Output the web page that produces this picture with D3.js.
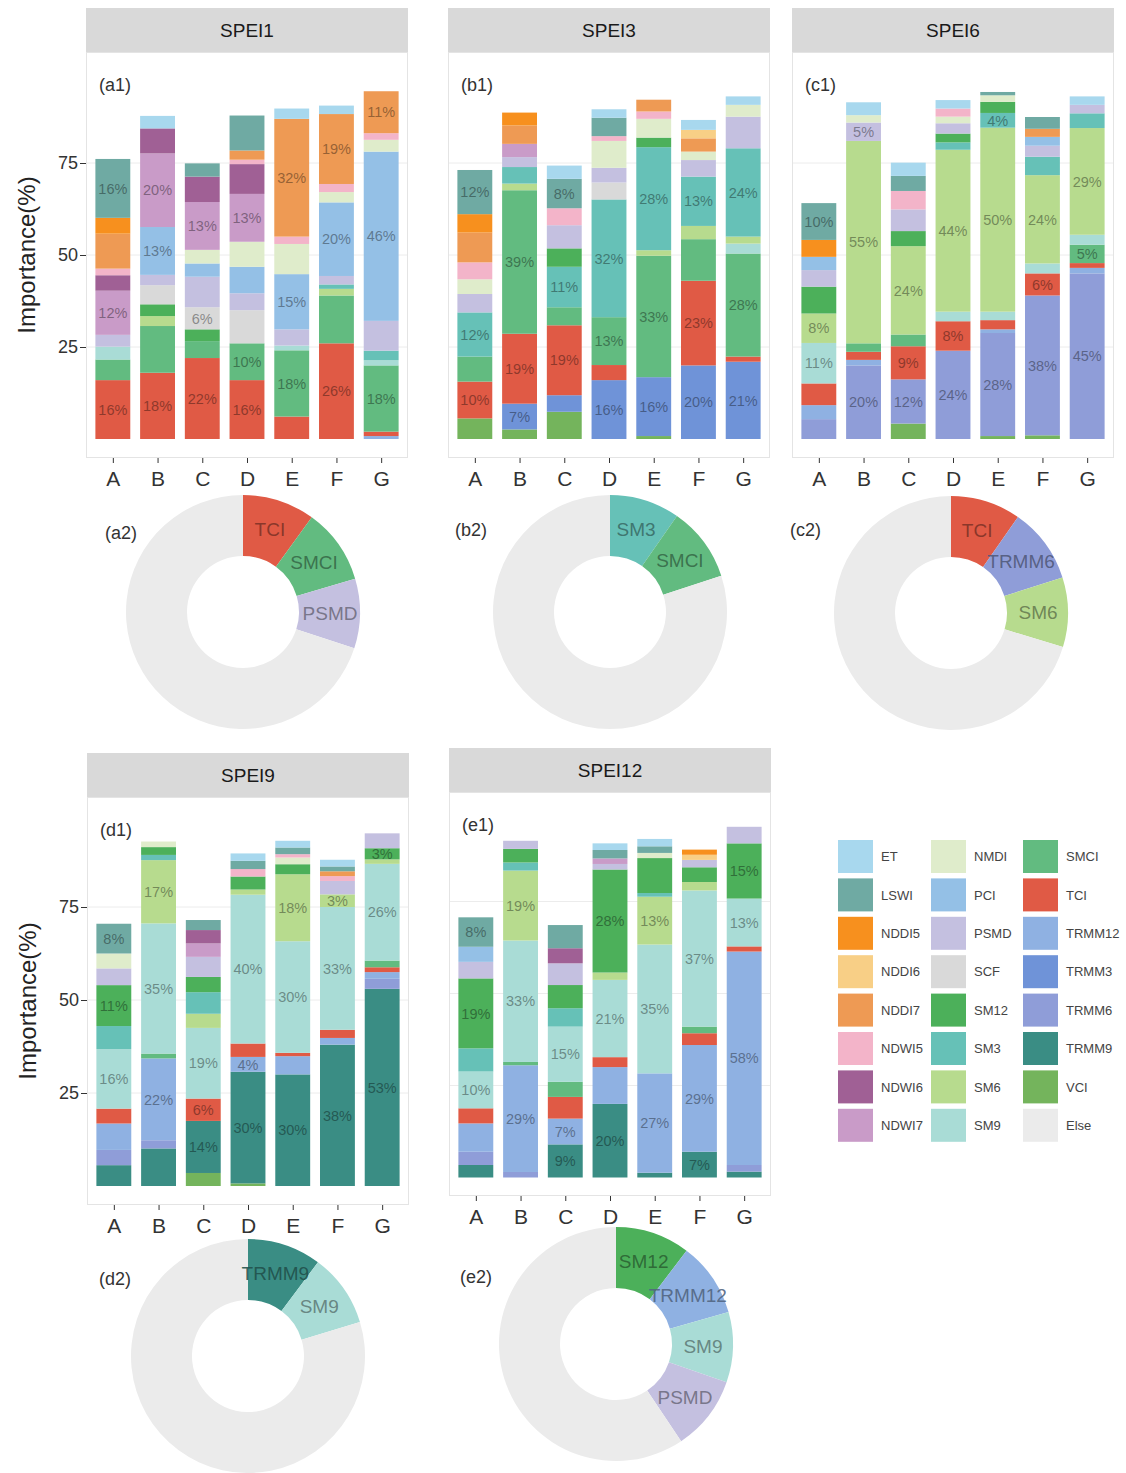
<!DOCTYPE html>
<html>
<head>
<meta charset="utf-8">
<script src="https://cdn.jsdelivr.net/npm/d3@7"></script>
<style>
  body { margin: 0; background: #fff; }
  svg { display: block; }
  text { font-family: "Liberation Sans", Arial, Helvetica, sans-serif; }
</style>
</head>
<body>
<svg id="chart" width="1126" height="1473"></svg>
<script>
// ---- data -------------------------------------------------------------
const categories = ["A", "B", "C", "D", "E", "F", "G"];

// predictor variables, in legend order (first one is stacked on top)
const variables = ["ET", "LSWI", "NDDI5", "NDDI6", "NDDI7", "NDWI5", "NDWI6", "NDWI7",
  "NMDI", "PCI", "PSMD", "SCF", "SM12", "SM3", "SM6", "SM9",
  "SMCI", "TCI", "TRMM12", "TRMM3", "TRMM6", "TRMM9", "VCI", "Else"];
const colours = ["#a8d8ee", "#6faaa3", "#f7901e", "#f8cf86", "#ee9a54", "#f3b4c9", "#a06095", "#c99bc8",
  "#dfeccb", "#94c0e6", "#c4c0e0", "#d9d9d9", "#4cb05a", "#66c1b7", "#b7db8e", "#a9dcd6",
  "#62bb80", "#e05a45", "#8fb1e2", "#6f93d8", "#8f9dd8", "#3a8d84", "#74b45c", "#ebebeb"];

const yTicks = [25, 50, 75];

// relative importance (%) per region, SPEI1
const spei1 = [
  { cat: "A", TCI: 16, SMCI: 5.6, SM9: 3.5, PSMD: 3.2, NDWI7: 12, NDWI6: 4.2, NDWI5: 1.8, NDDI7: 9.5, NDDI5: 4.3, LSWI: 16 },
  { cat: "B", TCI: 18, SMCI: 12.7, SM6: 2.7, SM12: 3.2, SCF: 5.2, PSMD: 2.8, PCI: 13, NDWI7: 20, NDWI6: 6.8, ET: 3.4 },
  { cat: "C", TCI: 22, SMCI: 4.6, SM12: 3.2, SCF: 6, PSMD: 8.3, PCI: 3.6, NMDI: 3.7, NDWI7: 13, NDWI6: 6.9, LSWI: 3.6 },
  { cat: "D", TCI: 16, SMCI: 10, SCF: 9, PSMD: 4.6, PCI: 7.2, NMDI: 6.8, NDWI7: 13, NDWI6: 8.1, NDWI5: 1.2, NDDI7: 2.5, LSWI: 9.5 },
  { cat: "E", TCI: 6.1, SMCI: 18, SM9: 1.3, PSMD: 4.4, PCI: 15, NMDI: 8.2, NDWI5: 2, NDDI7: 32, ET: 2.8 },
  { cat: "F", TCI: 26, SMCI: 13, SM6: 1.8, SM3: 1.2, PSMD: 2.3, PCI: 20, NMDI: 2.8, NDWI5: 2.2, NDDI7: 19, ET: 2.3 },
  { cat: "G", TRMM12: 0.8, TCI: 1.2, SMCI: 18, SM9: 1.4, SM3: 2.6, PSMD: 8.1, PCI: 46, NMDI: 3.2, NDWI5: 1.8, NDDI7: 11.4 }
];
const spei1Labels = {
  A: ["TCI", "NDWI7", "LSWI"], B: ["TCI", "PCI", "NDWI7"], C: ["TCI", "SCF", "NDWI7"],
  D: ["TCI", "SMCI", "NDWI7"], E: ["SMCI", "PCI", "NDDI7"], F: ["TCI", "PCI", "NDDI7"], G: ["SMCI", "PCI", "NDDI7"]
};

// SPEI3
const spei3 = [
  { cat: "A", VCI: 5.6, TCI: 10, SMCI: 6.8, SM3: 12, PSMD: 5, NMDI: 4, NDWI5: 4.6, NDDI7: 8.1, NDDI5: 5, LSWI: 12 },
  { cat: "B", VCI: 2.6, TRMM3: 7, TCI: 19, SMCI: 39, SM6: 1.8, SM3: 4.5, PSMD: 2.7, NDWI7: 3.6, NDDI7: 5, NDDI5: 3.5 },
  { cat: "C", VCI: 7.4, TRMM3: 4.5, TCI: 19, SMCI: 4.9, SM3: 11, SM12: 5, PSMD: 6.3, NDWI5: 4.6, LSWI: 8, ET: 3.6 },
  { cat: "D", TRMM3: 16, TCI: 4.1, SMCI: 13, SM3: 32, SCF: 4.6, PSMD: 4, NMDI: 7.3, NDWI5: 1.3, LSWI: 5, ET: 2.3 },
  { cat: "E", VCI: 0.8, TRMM3: 16, SMCI: 33, SM6: 1.5, SM3: 28, SM12: 2.6, NMDI: 5.1, NDWI5: 2, NDDI7: 3.2 },
  { cat: "F", TRMM3: 20, TCI: 23, SMCI: 11.3, SM6: 3.6, SM3: 13.4, PSMD: 4.5, NMDI: 2.3, NDDI7: 3.6, NDDI6: 2.3, ET: 2.7 },
  { cat: "G", TRMM3: 21, TCI: 1.4, SMCI: 28, SM9: 2.7, SM6: 1.9, SM3: 24, PSMD: 8.6, NMDI: 3.2, ET: 2.3 }
];
const spei3Labels = {
  A: ["TCI", "SM3", "LSWI"], B: ["TRMM3", "TCI", "SMCI"], C: ["TCI", "SM3", "LSWI"],
  D: ["TRMM3", "SMCI", "SM3"], E: ["TRMM3", "SMCI", "SM3"], F: ["TRMM3", "TCI", "SM3"], G: ["TRMM3", "SMCI", "SM3"]
};

// SPEI6
const spei6 = [
  { cat: "A", TRMM6: 5.4, TRMM12: 3.8, TCI: 5.9, SM9: 11, SM6: 8, SM12: 7.3, PSMD: 4.5, PCI: 3.6, NDDI5: 4.6, LSWI: 10 },
  { cat: "B", TRMM6: 20, TRMM12: 1.5, TCI: 2.2, SMCI: 2.3, SM6: 55, PSMD: 5, NMDI: 2, ET: 3.5 },
  { cat: "C", VCI: 4.2, TRMM6: 12, TCI: 9, SMCI: 3.2, SM6: 24, SM12: 4.1, PSMD: 5.9, NDWI5: 5, LSWI: 4.1, ET: 3.6 },
  { cat: "D", TRMM6: 24, TCI: 8, SM9: 2.6, SM6: 44, SM3: 2, SM12: 2.4, PSMD: 2.8, NMDI: 1.8, NDWI5: 2.2, ET: 2.3 },
  { cat: "E", VCI: 0.8, TRMM6: 28, TRMM12: 1, TCI: 2.5, SM9: 2.3, SM6: 50, SM3: 4, SM12: 3, NMDI: 1.8, LSWI: 0.9 },
  { cat: "F", VCI: 1, TRMM6: 38, TCI: 6, SM9: 2.7, SM6: 24, SM3: 5, PSMD: 3, PCI: 2.4, NDDI7: 2.2, LSWI: 3.2 },
  { cat: "G", TRMM6: 45, TRMM12: 1.5, TCI: 1.3, SMCI: 5, SM9: 2.7, SM6: 29, SM3: 4, PSMD: 2.3, ET: 2.3 }
];
const spei6Labels = {
  A: ["SM9", "SM6", "LSWI"], B: ["TRMM6", "SM6", "PSMD"], C: ["TRMM6", "TCI", "SM6"],
  D: ["TRMM6", "TCI", "SM6"], E: ["TRMM6", "SM6", "SM3"], F: ["TRMM6", "TCI", "SM6"], G: ["TRMM6", "SMCI", "SM6"]
};

// SPEI9
const spei9 = [
  { cat: "A", TRMM9: 5.6, TRMM6: 4.1, TRMM12: 7.1, TCI: 4, SM9: 16, SM3: 6.2, SM12: 11, PSMD: 4.5, NMDI: 4, LSWI: 8 },
  { cat: "B", TRMM9: 10.1, TRMM6: 2.2, TRMM12: 22, SMCI: 1.3, SM9: 35, SM6: 17, SM3: 1.4, SM12: 2.1, NMDI: 1.5 },
  { cat: "C", VCI: 3.5, TRMM9: 14, TCI: 6, SM9: 19, SM6: 3.8, SM3: 5.8, SM12: 4.1, PSMD: 5.4, NDWI7: 3.6, NDWI6: 3.6, LSWI: 2.7 },
  { cat: "D", VCI: 0.7, TRMM9: 30, TRMM12: 4, TCI: 3.6, SM9: 40, SM6: 1.4, SM12: 3.5, NDWI5: 2, LSWI: 2.2, ET: 2 },
  { cat: "E", TRMM9: 30, TRMM12: 4.9, TCI: 0.9, SM9: 30, SM6: 18, SM12: 2.7, NMDI: 1.8, NDWI5: 0.9, LSWI: 1.8, ET: 1.8 },
  { cat: "F", TRMM9: 38, TRMM12: 1.8, TCI: 2.2, SM9: 33, SM6: 3.4, PSMD: 3.6, NDWI5: 1.3, NDDI7: 1.3, LSWI: 1.3, ET: 1.8 },
  { cat: "G", TRMM9: 53, TRMM6: 2.7, TRMM12: 1.8, TCI: 1.3, SMCI: 1.8, SM9: 26, SM6: 1.2, SM12: 3, PSMD: 4 }
];
const spei9Labels = {
  A: ["SM9", "SM12", "LSWI"], B: ["TRMM12", "SM9", "SM6"], C: ["TRMM9", "TCI", "SM9"],
  D: ["TRMM9", "TRMM12", "SM9"], E: ["TRMM9", "SM9", "SM6"], F: ["TRMM9", "SM9", "SM6"], G: ["TRMM9", "SM9", "SM12"]
};

// SPEI12
const spei12 = [
  { cat: "A", TRMM9: 3.4, TRMM6: 3.6, TRMM12: 7.7, TCI: 4.1, SM9: 10, SM3: 6.3, SM12: 19, PSMD: 4.5, PCI: 4.1, LSWI: 8 },
  { cat: "B", TRMM6: 1.5, TRMM12: 29, SMCI: 0.9, SM9: 33, SM6: 19, SM3: 2.2, SM12: 3.7, PSMD: 2.2 },
  { cat: "C", TRMM9: 9, TRMM12: 7, TCI: 5.9, SMCI: 4.1, SM9: 15, SM3: 5, SM12: 6.3, PSMD: 5.9, NDWI6: 4.1, LSWI: 6.3 },
  { cat: "D", TRMM9: 20, TRMM12: 10, TCI: 2.7, SM9: 21, SM6: 2, SM12: 28, PSMD: 1.5, NDWI7: 1.5, LSWI: 2.3, ET: 1.8 },
  { cat: "E", TRMM9: 1.3, TRMM12: 27, SM9: 35, SM6: 13, SM3: 1, SM12: 9.5, NMDI: 1.4, LSWI: 1.8, ET: 2 },
  { cat: "F", TRMM9: 7, TRMM12: 29, TCI: 3.2, SMCI: 1.8, SM9: 37, SM6: 2.3, SM12: 4, PSMD: 2, NDDI6: 1.4, NDDI5: 1.4 },
  { cat: "G", TRMM9: 1.6, TRMM6: 1.8, TRMM12: 58, TCI: 1.4, SM9: 13, SM12: 15, PSMD: 4.5 }
];
const spei12Labels = {
  A: ["SM9", "SM12", "LSWI"], B: ["TRMM12", "SM9", "SM6"], C: ["TRMM9", "TRMM12", "SM9"],
  D: ["TRMM9", "SM9", "SM12"], E: ["TRMM12", "SM9", "SM6"], F: ["TRMM9", "TRMM12", "SM9"], G: ["TRMM12", "SM9", "SM12"]
};

// overall share of the leading predictors (%)
const ring1 = [{ name: "TCI", value: 10 }, { name: "SMCI", value: 10.4 }, { name: "PSMD", value: 9.6 }, { name: "Else", value: 70 }];
const ring3 = [{ name: "SM3", value: 9.7 }, { name: "SMCI", value: 10.3 }, { name: "Else", value: 80 }];
const ring6 = [{ name: "TCI", value: 9.7 }, { name: "TRMM6", value: 10.4 }, { name: "SM6", value: 9.6 }, { name: "Else", value: 70.3 }];
const ring9 = [{ name: "TRMM9", value: 10.2 }, { name: "SM9", value: 10.1 }, { name: "Else", value: 79.7 }];
const ring12 = [{ name: "SM12", value: 10.3 }, { name: "TRMM12", value: 10.3 }, { name: "SM9", value: 9.7 }, { name: "PSMD", value: 10.3 }, { name: "Else", value: 59.4 }];

// ---- drawing ------------------------------------------------------------
const svg = d3.select("#chart");
const colour = d3.scaleOrdinal().domain(variables).range(colours);
const inkOf = name => d3.color(colour(name)).darker(1.6).formatHex();
const FONT_DARK = "#333333";

const barPanels = [
  { title: "SPEI1", tag: "(a1)", rows: spei1, labels: spei1Labels, x0: 86, x1: 408, top: 52, bottom: 458, zero: 439, ppu: 3.68, yAxis: true },
  { title: "SPEI3", tag: "(b1)", rows: spei3, labels: spei3Labels, x0: 448, x1: 770, top: 52, bottom: 458, zero: 439, ppu: 3.68, yAxis: false },
  { title: "SPEI6", tag: "(c1)", rows: spei6, labels: spei6Labels, x0: 792, x1: 1114, top: 52, bottom: 458, zero: 439, ppu: 3.68, yAxis: false },
  { title: "SPEI9", tag: "(d1)", rows: spei9, labels: spei9Labels, x0: 87, x1: 409, top: 797, bottom: 1205, zero: 1186, ppu: 3.72, yAxis: true },
  { title: "SPEI12", tag: "(e1)", rows: spei12, labels: spei12Labels, x0: 449, x1: 771, top: 792, bottom: 1196, zero: 1177.5, ppu: 3.68, yAxis: false }
];

const ringPanels = [
  { tag: "(a2)", data: ring1, cx: 243, cy: 612, tagX: 105, tagY: 533 },
  { tag: "(b2)", data: ring3, cx: 610, cy: 612, tagX: 455, tagY: 530 },
  { tag: "(c2)", data: ring6, cx: 951, cy: 613, tagX: 790, tagY: 530 },
  { tag: "(d2)", data: ring9, cx: 248, cy: 1356, tagX: 99, tagY: 1279 },
  { tag: "(e2)", data: ring12, cx: 616, cy: 1344, tagX: 460, tagY: 1277 }
];

const stackKeys = variables.filter(v => v !== "Else").slice().reverse();

function drawBarPanel(p) {
  const g = svg.append("g");
  const y = d3.scaleLinear()
    .domain([-(p.bottom - p.zero) / p.ppu, (p.zero - p.top) / p.ppu])
    .range([p.bottom, p.top]);
  const x = d3.scalePoint().domain(categories).range([p.x0, p.x1]).padding(0.6);
  const bw = x.step() * 0.78;

  // facet strip
  g.append("rect").attr("x", p.x0).attr("y", p.top - 44).attr("width", p.x1 - p.x0).attr("height", 44)
    .attr("fill", "#d9d9d9");
  g.append("text").attr("x", (p.x0 + p.x1) / 2).attr("y", p.top - 22).attr("dy", "0.36em")
    .attr("text-anchor", "middle").attr("font-size", 19).attr("fill", "#1a1a1a").text(p.title);

  // panel and grid
  g.append("rect").attr("x", p.x0).attr("y", p.top).attr("width", p.x1 - p.x0).attr("height", p.bottom - p.top)
    .attr("fill", "#fff");
  g.append("g").selectAll("line").data(yTicks).join("line")
    .attr("x1", p.x0).attr("x2", p.x1).attr("y1", d => y(d)).attr("y2", d => y(d))
    .attr("stroke", "#ececec").attr("stroke-width", 1);

  // stacked bars
  const series = d3.stack().keys(stackKeys).value((d, k) => d[k] || 0)(p.rows);
  const segs = [];
  series.forEach(s => s.forEach(d => {
    if (d[1] - d[0] > 0) segs.push({ key: s.key, cat: d.data.cat, y0: d[0], y1: d[1], v: d[1] - d[0] });
  }));
  g.append("g").selectAll("rect").data(segs).join("rect")
    .attr("x", d => x(d.cat) - bw / 2).attr("width", bw)
    .attr("y", d => y(d.y1)).attr("height", d => y(d.y0) - y(d.y1))
    .attr("fill", d => colour(d.key));

  // value labels on the leading predictors of each bar
  const labelled = segs.filter(d => (p.labels[d.cat] || []).includes(d.key));
  g.append("g").selectAll("text").data(labelled).join("text")
    .attr("x", d => x(d.cat)).attr("y", d => y((d.y0 + d.y1) / 2)).attr("dy", "0.36em")
    .attr("text-anchor", "middle").attr("font-size", 14.5)
    .attr("fill", d => inkOf(d.key)).attr("fill-opacity", 0.85)
    .text(d => Math.round(d.v) + "%");

  // panel border
  g.append("rect").attr("x", p.x0 + 0.5).attr("y", p.top + 0.5).attr("width", p.x1 - p.x0 - 1).attr("height", p.bottom - p.top - 1)
    .attr("fill", "none").attr("stroke", "#e4e4e4");

  // axes
  const xa = g.append("g").attr("transform", `translate(0,${p.bottom})`)
    .call(d3.axisBottom(x).tickSize(5).tickPadding(8));
  xa.select(".domain").remove();
  xa.selectAll("line").attr("stroke", FONT_DARK);
  xa.selectAll("text").attr("font-size", 21).attr("fill", FONT_DARK)
    .style("font-family", '"Liberation Sans", Arial, sans-serif');

  if (p.yAxis) {
    const ya = g.append("g").attr("transform", `translate(${p.x0},0)`)
      .call(d3.axisLeft(y).tickValues(yTicks).tickSize(6).tickPadding(2));
    ya.select(".domain").remove();
    ya.selectAll("line").attr("stroke", FONT_DARK);
    ya.selectAll("text").attr("font-size", 18).attr("fill", FONT_DARK)
      .style("font-family", '"Liberation Sans", Arial, sans-serif');
    g.append("text")
      .attr("transform", `translate(${p.x0 - 60},${(p.top + p.bottom) / 2}) rotate(-90)`)
      .attr("text-anchor", "middle").attr("dy", "0.36em").attr("font-size", 24).attr("fill", "#222")
      .text("Importance(%)");
  }

  // panel tag
  g.append("text").attr("x", p.x0 + 13).attr("y", p.top + 33).attr("dy", "0.36em")
    .attr("font-size", 18).attr("fill", FONT_DARK).text(p.tag);
}

function drawRing(r) {
  const g = svg.append("g").attr("transform", `translate(${r.cx},${r.cy})`);
  const pie = d3.pie().sort(null).value(d => d.value);
  const arc = d3.arc().innerRadius(56).outerRadius(117);
  const mid = d3.arc().innerRadius(87).outerRadius(87);
  const arcs = pie(r.data);
  g.selectAll("path").data(arcs).join("path")
    .attr("d", arc).attr("fill", d => colour(d.data.name));
  g.selectAll("text").data(arcs.filter(d => d.data.name !== "Else")).join("text")
    .attr("transform", d => `translate(${mid.centroid(d)})`).attr("dy", "0.36em")
    .attr("text-anchor", "middle").attr("font-size", 19)
    .attr("fill", d => inkOf(d.data.name)).attr("fill-opacity", 0.9)
    .text(d => d.data.name);
  svg.append("text").attr("x", r.tagX).attr("y", r.tagY).attr("dy", "0.36em")
    .attr("font-size", 18).attr("fill", FONT_DARK).text(r.tag);
}

function drawLegend() {
  const colX = [838, 931, 1023];
  const g = svg.append("g");
  const items = variables.map((v, i) => ({ v, col: Math.floor(i / 8), row: i % 8 }));
  const item = g.selectAll("g").data(items).join("g")
    .attr("transform", d => `translate(${colX[d.col]},${840 + d.row * 38.4})`);
  item.append("rect").attr("width", 35).attr("height", 33).attr("fill", d => colour(d.v));
  item.append("text").attr("x", 43).attr("y", 16.5).attr("dy", "0.36em")
    .attr("font-size", 13).attr("fill", "#444").text(d => d.v);
}

barPanels.forEach(drawBarPanel);
ringPanels.forEach(drawRing);
drawLegend();
</script>
</body>
</html>
